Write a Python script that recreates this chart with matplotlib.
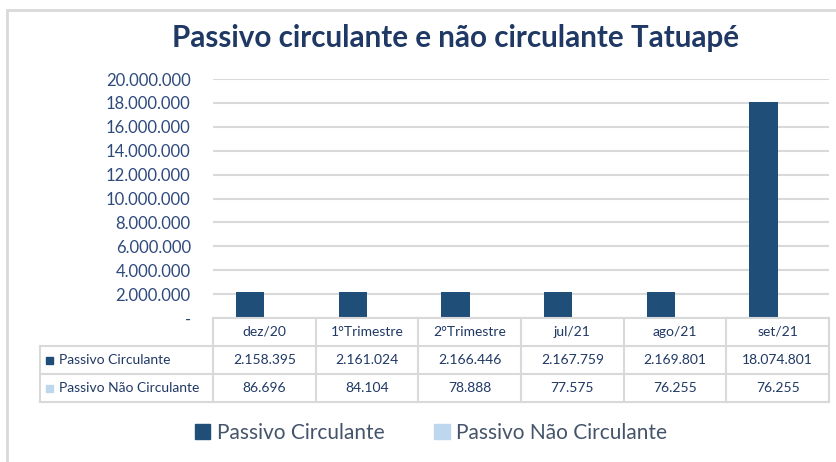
import matplotlib.pyplot as plt
import matplotlib.ticker as tick
from matplotlib.patches import Rectangle
from matplotlib.lines import Line2D

categorias = ['dez/20', '1°Trimestre', '2°Trimestre', 'jul/21', 'ago/21', 'set/21']
circulante = [2158395, 2161024, 2166446, 2167759, 2169801, 18074801]
nao_circulante = [86696, 84104, 78888, 77575, 76255, 76255]
series = ['Passivo Circulante', 'Passivo Não Circulante']
cores = ['#1F4E79', '#BDD7EE']

W, H = 836, 462
navy = '#1F3864'
txt = '#2E4A7D'
cinza = '#D9D9D9'
plt.rcParams['font.family'] = ['Lato', 'DejaVu Sans']


def fx(px):
    return px / W


def fy(py):
    return 1 - py / H


def br(v):
    return f'{v:,.0f}'.replace(',', '.')


fig = plt.figure(figsize=(W / 100, H / 100), dpi=100)
fig.patch.set_facecolor('white')

# moldura do grafico
fig.add_artist(Rectangle((fx(7), fy(470)), fx(840) - fx(7), fy(10) - fy(470),
                         transform=fig.transFigure, fill=False, ec=cinza, lw=2))

ax = fig.add_axes([fx(213), fy(318), fx(829) - fx(213), fy(79) - fy(318)])
x = list(range(len(categorias)))
bw = 0.275
ax.bar([i - bw / 2 for i in x], circulante, width=bw, color=cores[0], zorder=3)
ax.bar([i + bw / 2 for i in x], nao_circulante, width=bw, color=cores[1], zorder=3)
ax.set_xlim(-0.5, len(categorias) - 0.5)
ax.set_ylim(0, 20000000)
ax.yaxis.set_major_locator(tick.MultipleLocator(2000000))
ax.yaxis.set_major_formatter(tick.FuncFormatter(lambda v, p: '-' if v == 0 else br(v)))
ax.grid(axis='y', color=cinza, lw=1.5, zorder=0)
ax.set_xticks([])
for s in ax.spines.values():
    s.set_visible(False)
ax.tick_params(axis='y', length=0, pad=16, labelsize=12, labelcolor=txt)

fig.text(fx(455), fy(38), 'Passivo circulante e não circulante Tatuapé',
         ha='center', va='center', fontsize=21.3, fontweight='bold', color=navy)


# tabela de dados
def col_fx(v):
    return ax.transData.transform((v, 0))[0] / (fig.dpi * fig.get_size_inches()[0])


linhas = [318, 346, 374, 402]
xl, x0, x1 = 40, 213, 829
for i, yy in enumerate(linhas):
    a = x0 if i == 0 else xl
    fig.add_artist(Line2D([fx(a), fx(x1)], [fy(yy), fy(yy)], transform=fig.transFigure,
                          color=cinza, lw=1.5))
fig.add_artist(Line2D([fx(xl), fx(xl)], [fy(346), fy(402)], transform=fig.transFigure,
                      color=cinza, lw=1.5))
for k in range(len(categorias) + 1):
    xp = col_fx(k - 0.5)
    fig.add_artist(Line2D([xp, xp], [fy(318), fy(402)], transform=fig.transFigure,
                          color=cinza, lw=1.5))

for k, c in enumerate(categorias):
    xc = col_fx(k)
    fig.text(xc, fy(332), c, ha='center', va='center', fontsize=10, color=navy)
    fig.text(xc, fy(360), br(circulante[k]), ha='center', va='center', fontsize=10, color=navy)
    fig.text(xc, fy(388), br(nao_circulante[k]), ha='center', va='center', fontsize=10, color=navy)

for yy, nome, cor in zip([360, 388], series, cores):
    fig.add_artist(Rectangle((fx(46), fy(yy + 3.5)), fx(7), fy(0) - fy(7),
                             transform=fig.transFigure, color=cor))
    fig.text(fx(59), fy(yy), nome, ha='left', va='center', fontsize=10, color=navy)

handles = [Rectangle((0, 0), 1, 1, color=c) for c in cores]
fig.legend(handles, series, loc='center', bbox_to_anchor=(fx(431), fy(433)), ncol=2,
           frameon=False, fontsize=15, handlelength=0.75, handleheight=0.75,
           handletextpad=0.3, columnspacing=2.4, labelcolor='#44546A')

fig.savefig('out.png', dpi=100)
